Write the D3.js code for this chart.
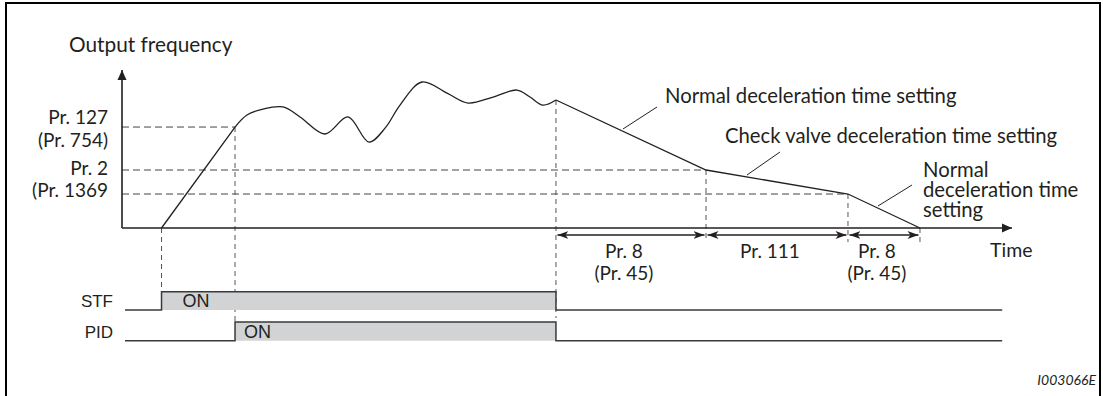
<!DOCTYPE html>
<html><head><meta charset="utf-8">
<script src="https://cdn.jsdelivr.net/npm/d3@7"></script>
<style>
html,body{margin:0;padding:0;background:#fff;}
svg{display:block;}
.t{font-family:Lato,"Open Sans",sans-serif;fill:#231f20;}
.h{font-family:"Liberation Sans",Arial,sans-serif;fill:#231f20;}
</style></head><body>
<script>
// ---- data (time units on x, frequency units on y) ----
const tStart = 4.44, tPid = 12.70, tStop = 48.76, tCheck = 65.62, tLow = 81.57, tEnd = 89.66;
const levelNames = ["Pr. 127", "Pr. 2", "Pr. 1369"];
const levelValues = [63.9, 36.7, 21.5];
const riseLine = [[tStart, 0], [tPid, 63.9]];
const pidWave = [[12.70,63.9],[14.04,71.5],[15.84,75.3],[18.09,76.6],[20.0,70.3],[22.81,59.5],[25.39,70.3],[27.75,54.4],[29.6,63.5],[31.2,77.5],[33.71,92.4],[36.52,85.4],[38.88,79.1],[41.69,82.9],[44.38,87.3],[45.84,82.9],[47.3,77.8],[48.76,81.0]];
const decelLine = [[48.76,81.0],[tCheck,36.7],[tLow,21.5],[tEnd,0]];
const spans = [[tStop, tCheck, "Pr. 8", "(Pr. 45)"], [tCheck, tLow, "Pr. 111", ""], [tLow, tEnd, "Pr. 8", "(Pr. 45)"]];
const signalNames = ["STF", "PID"];
const signalOn = [tStart, tPid];
const signalOff = [tStop, tStop];
const signalRange = [0.34, 98.9];
const leaders = [[[56.29,62.66],[60.11,76.58]], [[70.22,33.54],[73.93,48.1]], [[84.94,13.92],[88.76,27.2]]];

const W = 1103, H = 396;
const svg = d3.select("body").append("svg").attr("width", W).attr("height", H);
const x = d3.scaleLinear().domain([0, 100]).range([122, 1012]);
const y = d3.scaleLinear().domain([0, 100]).range([228, 70]);

// frame (open at bottom)
svg.append("path").attr("d", `M6,${H} V3 H1100 V${H}`).attr("fill","none").attr("stroke","#000").attr("stroke-width",2);

const defs = svg.append("defs");
defs.append("marker").attr("id","ax").attr("viewBox","0 -5 10 10").attr("refX",10).attr("refY",0)
  .attr("markerWidth",10).attr("markerHeight",10).attr("markerUnits","userSpaceOnUse").attr("orient","auto")
  .append("path").attr("d","M0,-4.5 L10,0 L0,4.5 Z").attr("fill","#231f20");
defs.append("marker").attr("id","da").attr("viewBox","0 -5 12 10").attr("refX",11).attr("refY",0)
  .attr("markerWidth",12).attr("markerHeight",10).attr("markerUnits","userSpaceOnUse").attr("orient","auto-start-reverse")
  .append("path").attr("d","M0,-4 L11,0 L0,4 L3,0 Z").attr("fill","#231f20");

// dashed reference lines (horizontal)
const hEnds = [tPid, tCheck, tLow];
levelValues.forEach((v,i)=>{
  svg.append("line").attr("x1",x(0)).attr("x2",x(hEnds[i])).attr("y1",y(v)).attr("y2",y(v))
    .attr("stroke","#444").attr("stroke-width",1).attr("stroke-dasharray","7,4");
});
// vertical dashed lines
const sigTop = [291.7, 322];
const vLines = [[tStart, y(0), sigTop[0]], [tPid, y(63.9), sigTop[1]], [tStop, y(81.0), 318], [tCheck, y(36.7), 242], [tLow, y(21.5), 242], [tEnd, y(0), 242]];
vLines.forEach(([t,a,b])=>{
  svg.append("line").attr("x1",x(t)).attr("x2",x(t)).attr("y1",a).attr("y2",b)
    .attr("stroke","#555").attr("stroke-width",1).attr("stroke-dasharray","5,4");
});

// axes
svg.append("line").attr("x1",x(0)).attr("x2",x(0)).attr("y1",y(0)).attr("y2",y(100))
  .attr("stroke","#231f20").attr("stroke-width",1.6).attr("marker-end","url(#ax)");
svg.append("line").attr("x1",x(0)).attr("x2",x(100)).attr("y1",y(0)).attr("y2",y(0))
  .attr("stroke","#231f20").attr("stroke-width",1.6).attr("marker-end","url(#ax)");

// curve
const lin = d3.line().x(d=>x(d[0])).y(d=>y(d[1]));
const smooth = d3.line().x(d=>x(d[0])).y(d=>y(d[1])).curve(d3.curveCatmullRom.alpha(0.5));
[[riseLine,lin],[pidWave,smooth],[decelLine,lin]].forEach(([d,g])=>{
  svg.append("path").attr("d",g(d)).attr("fill","none").attr("stroke","#231f20").attr("stroke-width",1.3);
});
leaders.forEach(l=>{
  svg.append("path").attr("d",lin(l)).attr("stroke","#231f20").attr("stroke-width",1);
});

// span arrows
spans.forEach(([a,b,l1,l2])=>{
  svg.append("line").attr("x1",x(a)+1.5).attr("x2",x(b)-1.5).attr("y1",235).attr("y2",235)
    .attr("stroke","#231f20").attr("stroke-width",1.3).attr("marker-start","url(#da)").attr("marker-end","url(#da)");
  const cx = (x(a)+x(b))/2 - 7;
  const tx = svg.append("text").attr("class","t").attr("x",cx).attr("y",258).attr("text-anchor","middle").attr("font-size",19);
  tx.append("tspan").attr("x",cx).attr("y",258).text(l1);
  if(l2) tx.append("tspan").attr("x",cx).attr("y",280).text(l2);
});

// texts
const T = (tx,ty,s,anchor,fs,cls)=>svg.append("text").attr("class",cls||"t").attr("x",tx).attr("y",ty)
  .attr("text-anchor",anchor||"start").attr("font-size",fs||20.3).text(s);
T(69,52,"Output frequency",null,20.8);
T(108,124,levelNames[0],"end",19); T(108,147,"(Pr. 754)","end",19);
T(108,175,levelNames[1],"end",19); T(108,197,"(" + levelNames[2],"end",19);
T(665,103,"Normal deceleration time setting");
T(725,143,"Check valve deceleration time setting");
const nd = svg.append("text").attr("class","t").attr("font-size",20.3);
["Normal","deceleration time","setting"].forEach((s,i)=>nd.append("tspan").attr("x",923).attr("y",177+20*i).text(s));
T(990,257,"Time",null,19.5);

// signals
const sigLow = [310, 340.7];
signalNames.forEach((n,i)=>{
  const on = x(signalOn[i]), off = x(signalOff[i]);
  svg.append("rect").attr("x",on).attr("y",sigTop[i]).attr("width",off-on).attr("height",sigLow[i]-sigTop[i]).attr("fill","#d1d3d4");
  const p = d3.path();
  p.moveTo(x(signalRange[0]), sigLow[i]); p.lineTo(on, sigLow[i]); p.lineTo(on, sigTop[i]);
  p.lineTo(off, sigTop[i]); p.lineTo(off, sigLow[i]); p.lineTo(x(signalRange[1]), sigLow[i]);
  svg.append("path").attr("d",p.toString()).attr("fill","none").attr("stroke","#3a3a3a").attr("stroke-width",1.5);
  svg.append("text").attr("class","h").attr("x",113).attr("y",sigLow[i]-3).attr("text-anchor","end").attr("font-size",17).text(n);
  svg.append("text").attr("class","h").attr("x",on + (i===0?21:9)).attr("y",sigLow[i]-3).attr("font-size",18).text("ON");
});

svg.append("text").attr("class","t").attr("x",1096).attr("y",385).attr("text-anchor","end")
  .attr("font-size",14).attr("font-style","italic").text("I003066E");
</script>
</body></html>
